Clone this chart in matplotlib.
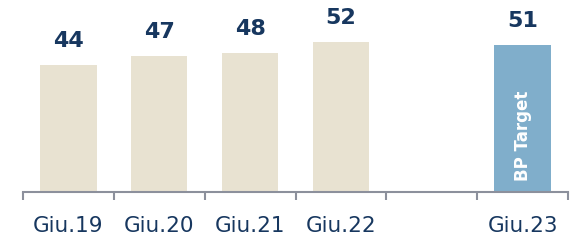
import matplotlib.pyplot as plt

# values
labels = ['Giu.19', 'Giu.20', 'Giu.21', 'Giu.22', '', 'Giu.23']
values = [44, 47, 48, 52, None, 51]
colors = ['#E8E2D1', '#E8E2D1', '#E8E2D1', '#E8E2D1', None, '#80AECB']
navy = '#17375F'
axis_grey = '#8C909C'

fig = plt.figure(figsize=(5.81, 2.41), dpi=100)
ax = fig.add_axes([23 / 581, 49 / 241, 545 / 581, 192 / 241])

for i, (v, c) in enumerate(zip(values, colors)):
    if v is None:
        continue
    ax.bar(i, v, width=0.62, color=c, zorder=2)
    ax.annotate(str(v), (i, v), xytext=(0, 10), textcoords='offset points',
                ha='center', va='bottom', fontsize=16, fontweight='heavy', color=navy)

# text inside the target bar
ax.text(5, 19.4, 'BP Target', rotation=90, ha='center', va='center',
        color='white', fontsize=12, fontweight='bold', zorder=3)

ax.set_xlim(-0.5, 5.5)
ax.set_ylim(0, 66.4)

for s in ['top', 'right', 'left']:
    ax.spines[s].set_visible(False)
ax.spines['bottom'].set_color(axis_grey)
ax.spines['bottom'].set_linewidth(1.5)
ax.set_yticks([])

# boundary ticks, labels at centers
ax.set_xticks([x - 0.5 for x in range(7)])
ax.set_xticklabels([])
ax.tick_params(axis='x', which='major', direction='out', length=6, width=1.5, color=axis_grey)
ax.set_xticks(range(6), minor=True)
ax.set_xticklabels(labels, minor=True)
ax.tick_params(axis='x', which='minor', length=0, pad=17, labelsize=15.5, labelcolor=navy)

plt.savefig('out.png', dpi=100)
